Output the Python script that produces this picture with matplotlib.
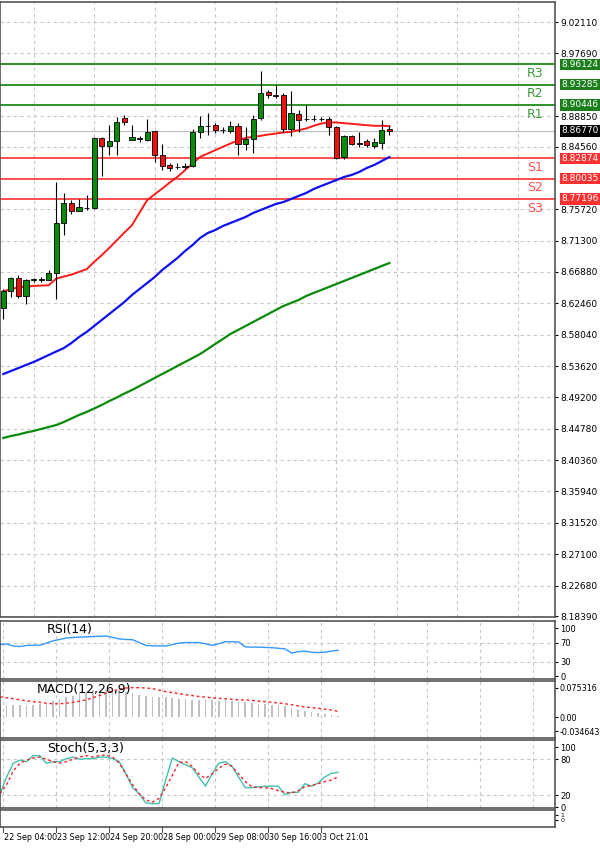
import numpy as np
import matplotlib.pyplot as plt

# candle data (open, high, low, close)
opens = [8.6181, 8.6421, 8.6609, 8.6351, 8.6576, 8.6576, 8.6581, 8.6675, 8.7385, 8.7662,
         8.7549, 8.7587, 8.7591, 8.8578, 8.8461, 8.8531, 8.8865, 8.8555, 8.8564, 8.8555,
         8.8677, 8.8343, 8.8193, 8.8165, 8.8174, 8.8184, 8.8654, 8.8743, 8.8766, 8.8682,
         8.8677, 8.8743, 8.8489, 8.8569, 8.8860, 8.9227, 8.9185, 8.9180, 8.8696, 8.8921,
         8.8846, 8.8846, 8.8846, 8.8851, 8.8734, 8.8311, 8.8607, 8.8503, 8.8536, 8.8466,
         8.8508, 8.8710]
highs = [8.6454, 8.6619, 8.6642, 8.6595, 8.6604, 8.6614, 8.6712, 8.7958, 8.7794, 8.7700,
         8.7723, 8.7770, 8.8593, 8.8593, 8.8757, 8.8875, 8.8898, 8.8757, 8.8607, 8.8842,
         8.8677, 8.8498, 8.8217, 8.8217, 8.8217, 8.8710, 8.8884, 8.8922, 8.8781, 8.8734,
         8.8813, 8.8781, 8.8734, 8.8907, 8.9518, 8.9251, 8.9330, 8.9213, 8.9236, 8.8968,
         8.9039, 8.8907, 8.8875, 8.8875, 8.8748, 8.8625, 8.8625, 8.8663, 8.8569, 8.8578,
         8.8828, 8.8766]
lows = [8.6031, 8.6337, 8.6322, 8.6243, 8.6548, 8.6548, 8.6572, 8.6313, 8.7215, 8.7512,
        8.7549, 8.7568, 8.7573, 8.8038, 8.8343, 8.8343, 8.8757, 8.8546, 8.8513, 8.8531,
        8.8240, 8.8123, 8.8108, 8.8146, 8.8146, 8.8170, 8.8578, 8.8625, 8.8649, 8.8649,
        8.8649, 8.8343, 8.8405, 8.8367, 8.8828, 8.9133, 8.9133, 8.8663, 8.8602, 8.8663,
        8.8813, 8.8813, 8.8813, 8.8616, 8.8287, 8.8287, 8.8475, 8.8451, 8.8451, 8.8437,
        8.8428, 8.8616]
closes = [8.6421, 8.6609, 8.6351, 8.6572, 8.6586, 8.6586, 8.6675, 8.7385, 8.7653, 8.7549,
          8.7606, 8.7596, 8.8583, 8.8461, 8.8531, 8.8795, 8.8795, 8.8593, 8.8574, 8.8663,
          8.8343, 8.8184, 8.8155, 8.8174, 8.8184, 8.8654, 8.8743, 8.8752, 8.8687, 8.8691,
          8.8743, 8.8489, 8.8569, 8.8851, 8.9213, 8.9180, 8.9175, 8.8696, 8.8931, 8.8828,
          8.8837, 8.8837, 8.8837, 8.8734, 8.8301, 8.8607, 8.8498, 8.8494, 8.8475, 8.8513,
          8.8687, 8.8677]

ma_red = [8.6416, 8.6445, 8.6473, 8.6482, 8.6492, 8.6496, 8.6501, 8.6595, 8.6623, 8.6651,
          8.6689, 8.6727, 8.6830, 8.6924, 8.7027, 8.7135, 8.7244, 8.7347, 8.7526, 8.7699,
          8.7784, 8.7864, 8.7949, 8.8028, 8.8122, 8.8216, 8.8310, 8.8357, 8.8404, 8.8451,
          8.8498, 8.8541, 8.8578, 8.8592, 8.8607, 8.8625, 8.8639, 8.8654, 8.8663, 8.8686,
          8.8710, 8.8748, 8.8780, 8.8795, 8.8795, 8.8785, 8.8776, 8.8766, 8.8757, 8.8748,
          8.8748, 8.8743]
ma_blue = [8.5250, 8.5292, 8.5334, 8.5377, 8.5419, 8.5468, 8.5518, 8.5567, 8.5616, 8.5687,
           8.5771, 8.5842, 8.5926, 8.6011, 8.6096, 8.6180, 8.6265, 8.6363, 8.6448, 8.6532,
           8.6617, 8.6716, 8.6800, 8.6885, 8.6983, 8.7068, 8.7167, 8.7237, 8.7279, 8.7336,
           8.7378, 8.7420, 8.7463, 8.7519, 8.7561, 8.7604, 8.7646, 8.7674, 8.7716, 8.7759,
           8.7801, 8.7857, 8.7900, 8.7942, 8.7984, 8.8026, 8.8055, 8.8097, 8.8153, 8.8196,
           8.8252, 8.8308]
ma_green = [8.4348, 8.4376, 8.4397, 8.4425, 8.4447, 8.4475, 8.4503, 8.4531, 8.4573, 8.4623,
            8.4672, 8.4714, 8.4764, 8.4813, 8.4869, 8.4919, 8.4975, 8.5024, 8.5081, 8.5137,
            8.5194, 8.5250, 8.5306, 8.5363, 8.5419, 8.5475, 8.5532, 8.5602, 8.5673, 8.5743,
            8.5814, 8.5870, 8.5926, 8.5983, 8.6039, 8.6096, 8.6152, 8.6208, 8.6251, 8.6293,
            8.6349, 8.6392, 8.6434, 8.6476, 8.6518, 8.6561, 8.6603, 8.6645, 8.6687, 8.6730,
            8.6772, 8.6814]

res_levels = [8.90446, 8.93285, 8.96124]
res_names = ["R1", "R2", "R3"]
sup_levels = [8.82874, 8.80035, 8.77196]
sup_names = ["S1", "S2", "S3"]
last_price = 8.86770
price_ticks = [9.02110, 8.97690, 8.88850, 8.84560, 8.75720, 8.71300, 8.66880, 8.62460,
               8.58040, 8.53620, 8.49200, 8.44780, 8.40360, 8.35940, 8.31520, 8.27100,
               8.22680, 8.18390]

rsi = [65.8, 67.0, 62.9, 61.7, 64.0, 64.6, 64.6, 68.8, 73.6, 76.5, 79.5, 80.7, 81.3, 81.9,
       82.5, 83.1, 83.7, 80.7, 77.7, 76.5, 76.0, 70.0, 64.0, 63.5, 62.9, 62.9, 65.8, 68.8,
       70.0, 70.0, 70.0, 67.6, 64.0, 67.6, 71.8, 71.8, 71.2, 61.1, 60.5, 60.5, 59.9, 59.3,
       58.1, 56.9, 48.0, 51.0, 52.2, 49.8, 49.2, 49.8, 52.2, 53.9]
macd_hist = [.0346, .0323, .0323, .0308, .0308, .0308, .0346, .0346, .0423, .0477, .0523,
             .0554, .0615, .0654, .0692, .0677, .0692, .0731, .0692, .0654, .0615, .0577,
             .0554, .0523, .0523, .0523, .0500, .0477, .0461, .0446, .0446, .0461, .0446,
             .0423, .0446, .0423, .0400, .0385, .0369, .0346, .0346, .0308, .0308, .0292,
             .0231, .0192, .0154, .0138, .0115, .0092, .0062, .0038]
macd_signal = [.0523, .0500, .0477, .0446, .0423, .0400, .0385, .0361, .0346, .0346, .0361,
               .0385, .0408, .0446, .0500, .0554, .0615, .0669, .0715, .0746, .0754, .0754,
               .0746, .0731, .0692, .0654, .0631, .0600, .0577, .0554, .0531, .0515, .0500,
               .0484, .0477, .0461, .0446, .0446, .0431, .0415, .0400, .0385, .0369, .0346,
               .0323, .0292, .0269, .0246, .0231, .0208, .0192, .0154]
stoch_k = [22.6, 50.5, 73.4, 78.5, 75.9, 86.1, 86.1, 73.4, 75.9, 75.9, 81.0, 83.6, 80.0,
           81.0, 81.0, 83.6, 83.6, 81.0, 75.9, 55.6, 32.8, 22.6, 7.4, 6.3, 6.3, 45.5, 82.0,
           75.9, 70.9, 65.8, 50.5, 35.3, 55.6, 73.4, 75.9, 68.3, 50.5, 32.8, 32.8, 34.3,
           35.3, 35.3, 35.3, 21.1, 25.1, 25.1, 39.4, 35.3, 40.4, 50.5, 56.6, 58.2]
stoch_d = [22.6, 37.8, 60.7, 73.4, 78.5, 82.0, 83.6, 80.0, 75.9, 73.4, 75.9, 80.0, 83.6,
           86.1, 83.6, 86.1, 87.1, 83.6, 73.4, 55.6, 37.8, 22.6, 12.4, 8.9, 15.0, 32.8, 53.1,
           74.9, 75.9, 68.3, 55.6, 48.0, 55.6, 64.8, 71.9, 68.3, 55.6, 42.9, 34.3, 32.8,
           32.8, 31.2, 27.7, 25.1, 24.1, 27.7, 34.3, 36.3, 39.4, 42.9, 45.5, 50.5]

date_labels = ["22 Sep 04:00", "23 Sep 12:00", "24 Sep 20:00", "28 Sep 00:00",
               "29 Sep 08:00", "30 Sep 16:00", "3 Oct 21:01"]

W, H = 600, 852
fig = plt.figure(figsize=(6, 8.52), dpi=100)
plt.rcParams['font.family'] = 'DejaVu Sans'


def box(top, bottom):
    return [0, 1 - bottom / H, 555 / W, (bottom - top) / H]


def style(ax, fs=6.5):
    ax.yaxis.tick_right()
    ax.tick_params(axis='y', labelsize=fs, length=2, pad=2)
    ax.set_xticks([])
    for s in ax.spines.values():
        s.set_color('#555555')
        s.set_linewidth(1.2)


grid_kw = dict(color='#c8c8c8', linestyle=(0, (3, 3)), linewidth=0.8)

# ---- main price panel
ax = fig.add_axes(box(2, 617))
style(ax)
n = len(opens)
x = np.arange(n)
ax.set_xlim(-0.436, 72.88)
ax.set_ylim(8.1825, 9.0493)
for gx in range(4, 73, 8):
    ax.axvline(gx, zorder=0, **grid_kw)
for t in price_ticks:
    ax.axhline(t, zorder=0, **grid_kw)
ax.set_yticks(price_ticks)
ax.set_yticklabels([f"{t:.5f}" for t in price_ticks])

ax.axhline(last_price, color='#bbbbbb', linewidth=0.8, zorder=1)
for lv, nm in zip(res_levels, res_names):
    ax.axhline(lv, color='#1a8a1a', linewidth=1.3, zorder=2)
    ax.text(70.3, lv - 0.004, nm, color='#3a9a3a', fontsize=9, ha='center', va='top')
    ax.text(1.012, lv, f"{lv:.5f}", transform=ax.get_yaxis_transform(), fontsize=6.5,
            color='white', va='center', ha='left',
            bbox=dict(boxstyle='square,pad=0.15', fc='#1a7f1a', ec='none'))
for lv, nm in zip(sup_levels, sup_names):
    ax.axhline(lv, color='#ff4040', linewidth=1.3, zorder=2)
    ax.text(70.3, lv - 0.004, nm, color='#ff5050', fontsize=9, ha='center', va='top')
    ax.text(1.012, lv, f"{lv:.5f}", transform=ax.get_yaxis_transform(), fontsize=6.5,
            color='white', va='center', ha='left',
            bbox=dict(boxstyle='square,pad=0.15', fc='#ff3030', ec='none'))
ax.text(1.012, last_price, f"{last_price:.5f}", transform=ax.get_yaxis_transform(),
        fontsize=6.5, color='white', va='center', ha='left',
        bbox=dict(boxstyle='square,pad=0.15', fc='black', ec='none'))

ax.plot(x, ma_green, color='#0a8a0a', linewidth=1.6, zorder=3)
ax.plot(x, ma_blue, color='#1010ee', linewidth=1.6, zorder=3)
ax.plot(x, ma_red, color='#ff1a1a', linewidth=1.4, zorder=3)

o = np.array(opens); c = np.array(closes)
up = c >= o
ax.vlines(x, lows, highs, color='black', linewidth=0.8, zorder=4)
ax.bar(x, np.maximum(np.abs(c - o), 0.0006), bottom=np.minimum(o, c), width=0.68,
       color=np.where(up, '#0a8a0a', '#ee1111'), edgecolor='black', linewidth=0.6, zorder=5)

# ---- indicator panels
xi = np.arange(len(rsi))
ixlim = (0, 51 * 555 / 338)
igrid = np.arange(0.4, 84, 8)

ax_rsi = fig.add_axes(box(621, 679))
style(ax_rsi, 6)
ax_rsi.set_xlim(*ixlim)
ax_rsi.set_ylim(-6, 115)
for gx in igrid:
    ax_rsi.axvline(gx, zorder=0, **grid_kw)
for t in [70, 30]:
    ax_rsi.axhline(t, zorder=0, **grid_kw)
ax_rsi.set_yticks([100, 70, 30, 0])
ax_rsi.plot(xi, rsi, color='#3399ff', linewidth=1)
ax_rsi.text(0.085, 0.97, "RSI(14)", transform=ax_rsi.transAxes, fontsize=9, va='top')

ax_macd = fig.add_axes(box(681, 738))
style(ax_macd, 5.8)
ax_macd.tick_params(axis='y', pad=1)
ax_macd.set_xlim(*ixlim)
ax_macd.set_ylim(-0.052, 0.0923)
for gx in igrid:
    ax_macd.axvline(gx, zorder=0, **grid_kw)
ax_macd.set_yticks([0.075316, 0.0, -0.034643])
ax_macd.set_yticklabels(["0.075316", "0.00", "-0.034643"])
ax_macd.bar(xi, macd_hist, width=0.25, color='#c0c0c0')
ax_macd.plot(xi, macd_signal, color='#ff2020', linewidth=1, linestyle=(0, (2, 2)))
ax_macd.text(0.067, 0.97, "MACD(12,26,9)", transform=ax_macd.transAxes, fontsize=9, va='top')

ax_st = fig.add_axes(box(740, 808))
style(ax_st, 6)
ax_st.set_xlim(*ixlim)
ax_st.set_ylim(-1, 112)
for gx in igrid:
    ax_st.axvline(gx, zorder=0, **grid_kw)
for t in [80, 20]:
    ax_st.axhline(t, zorder=0, **grid_kw)
ax_st.set_yticks([100, 80, 20, 0])
ax_st.plot(xi, stoch_k, color='#40c0b0', linewidth=1)
ax_st.plot(xi, stoch_d, color='#ff2020', linewidth=1, linestyle=(0, (2, 2)))
ax_st.text(0.085, 0.97, "Stoch(5,3,3)", transform=ax_st.transAxes, fontsize=9, va='top')

ax_b = fig.add_axes(box(810, 827))
style(ax_b, 4.5)
ax_b.set_xlim(*ixlim)
ax_b.set_ylim(-0.3, 1.6)
ax_b.set_yticks([1, 0.5])
ax_b.set_yticklabels(["1", "0"])
for i, lab in enumerate(date_labels):
    ax_b.text(igrid[i] + 0.2, -0.35, lab, fontsize=5.8, ha='left', va='top',
              transform=ax_b.get_xaxis_transform(), clip_on=False)
    ax_b.plot([igrid[i], igrid[i]], [-0.3, -0.85], color='#555555', linewidth=0.8, clip_on=False)

fig.savefig("out.png", dpi=100)
